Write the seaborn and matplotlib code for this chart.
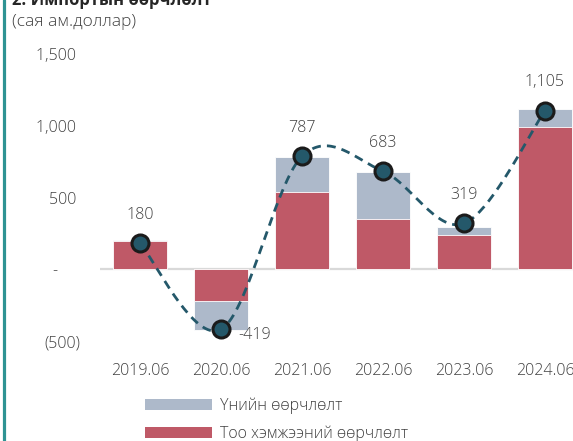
import numpy as np
import pandas as pd
import matplotlib
matplotlib.use("Agg")
import matplotlib.pyplot as plt
from matplotlib.patches import Patch
from matplotlib.lines import Line2D
import seaborn as sns

# ---- data (million USD) ----
periods = ["2019.06", "2020.06", "2021.06", "2022.06", "2023.06", "2024.06"]
quantity_change = [198, -220, 540, 349, 237, 988]   # Тоо хэмжээний өөрчлөлт
price_change = [4, -205, 242, 329, 58, 127]         # Үнийн өөрчлөлт
total_change = [180, -419, 787, 683, 319, 1105]     # нийт өөрчлөлт
y_ticks = [-500, 0, 500, 1000, 1500]
y_tick_labels = ["(500)", "-\u2007\u2007 ", "500 ", "1,000 ", "1,500 "]

GRAY = "#adb9ca"
RED = "#bf5967"
LINE = "#24586a"
TEXT = "#404040"

sns.set_theme(style="white")
plt.rcParams["font.family"] = ["Open Sans", "DejaVu Sans"]

W, H = 573, 441
fig = plt.figure(figsize=(W / 100, H / 100), dpi=100)

# axes placed in pixel terms: x from 99.5px (width 486px), y -500..1500 -> 341px..54px
ax = fig.add_axes([99.5 / W, 1 - 341 / H, 486 / W, (341 - 54) / H])

df = pd.DataFrame({
    "period": periods,
    "quantity": quantity_change,
    "price": price_change,
    "total": total_change,
})
df["stack_top"] = df["quantity"] + df["price"]

# stacked bars: price part sits on the quantity part (drawn as full stack, then quantity over it)
sns.barplot(data=df, x="period", y="stack_top", color=GRAY, saturation=1,
            width=0.667, edgecolor="white", linewidth=0.6, ax=ax, zorder=2)
sns.barplot(data=df, x="period", y="quantity", color=RED, saturation=1,
            width=0.667, edgecolor="white", linewidth=0.6, ax=ax, zorder=3)

ax.axhline(0, color="#d9d9d9", lw=1.6, zorder=1)

# smoothed line through the totals (cubic Bezier with Catmull-Rom tangents)
xs = np.arange(len(periods), dtype=float)
ys = np.array(total_change, dtype=float)
pts = np.column_stack([xs, ys])
ext = np.vstack([pts[0], pts, pts[-1]])
curve = []
t = np.linspace(0, 1, 40)[:, None]
for i in range(len(pts) - 1):
    p0, p1 = ext[i + 1], ext[i + 2]
    c1 = p0 + (ext[i + 2] - ext[i]) / 6
    c2 = p1 - (ext[i + 3] - ext[i + 1]) / 6
    seg = (1 - t) ** 3 * p0 + 3 * (1 - t) ** 2 * t * c1 + 3 * (1 - t) * t ** 2 * c2 + t ** 3 * p1
    curve.append(seg)
curve = np.vstack(curve)
ax.plot(curve[:, 0], curve[:, 1], color=LINE, lw=2.0, ls=(0, (3.2, 2.2)),
        zorder=4, clip_on=False, solid_capstyle="butt", dash_capstyle="butt")
sns.scatterplot(x=xs, y=ys, s=150, color=LINE, edgecolor="#1b1b1b", linewidth=2.2,
                zorder=5, ax=ax, clip_on=False, legend=False)

# value labels
for xi, v in zip(xs, total_change):
    label = f"{v:,}"
    if v < 0:
        ax.annotate(label, (xi, v), xytext=(24, -4), textcoords="offset points",
                    ha="center", va="center", fontsize=11.5, color=TEXT,
                    fontweight="light", zorder=6)
    else:
        ax.annotate(label, (xi, v), xytext=(0, 20.5), textcoords="offset points",
                    ha="center", va="center", fontsize=11.5, color=TEXT,
                    fontweight="light", zorder=6)

ax.set_xlim(-0.5, len(periods) - 0.5)
ax.set_ylim(-500, 1500)
ax.set_yticks(y_ticks)
ax.set_yticklabels(y_tick_labels)
ax.set_xlabel("")
ax.set_ylabel("")
ax.tick_params(axis="y", length=0, pad=14, labelsize=11.5, labelcolor=TEXT)
ax.tick_params(axis="x", length=0, pad=16, labelsize=11.5, labelcolor=TEXT)
for lab in ax.get_xticklabels() + ax.get_yticklabels():
    lab.set_fontweight("light")
sns.despine(ax=ax, left=True, bottom=True)

# legend
handles = [Patch(facecolor=GRAY, edgecolor="none", label="Үнийн өөрчлөлт"),
           Patch(facecolor=RED, edgecolor="none", label="Тоо хэмжээний өөрчлөлт")]
leg = fig.legend(handles=handles, loc="upper left",
                 bbox_to_anchor=(132 / W, 1 - 385 / H), frameon=False,
                 fontsize=11.5, handlelength=4.2, handleheight=0.7,
                 handletextpad=0.5, labelspacing=0.72, borderpad=0.3)
for txt in leg.get_texts():
    txt.set_color(TEXT)
    txt.set_fontweight("light")

# heading
fig.text(12 / W, 1 - 5 / H, "2. Импортын өөрчлөлт", fontsize=12, fontweight="bold",
         color="#262626", ha="left", va="baseline")
fig.text(12 / W, 1 - 22 / H, "(сая ам.доллар)", fontsize=12.5, fontweight="light",
         color=TEXT, ha="left", va="center")

# left accent rule
fig.add_artist(Line2D([3.5 / W, 3.5 / W], [0, 1], color="#2e9393", lw=2.3,
                      transform=fig.transFigure))

fig.savefig("out.png", dpi=100)
